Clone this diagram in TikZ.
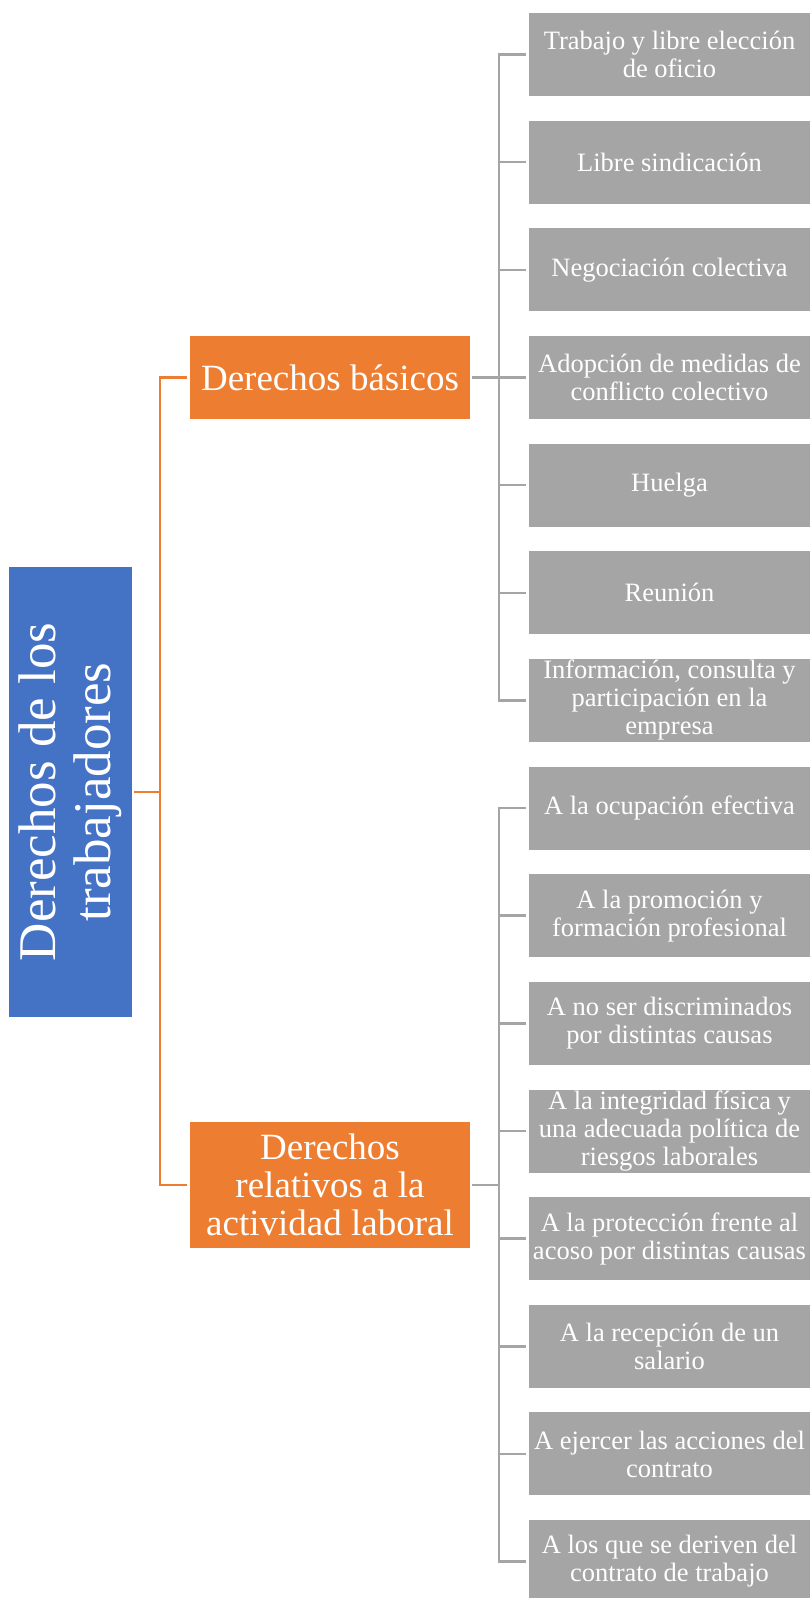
\documentclass[tikz,border=0pt]{standalone}
\usepackage{fontspec}
\setmainfont{Liberation Serif}
\usepackage{graphicx}
\definecolor{azul}{HTML}{4472C4}
\definecolor{naranja}{HTML}{ED7D31}
\definecolor{gris}{HTML}{A5A5A5}

\begin{document}
\begin{tikzpicture}[x=1pt, y=-1pt,
    raiz/.style={fill=azul, text=white, minimum width=123pt, minimum height=450pt, inner sep=0pt},
    rama/.style={fill=naranja, text=white, minimum width=280pt, inner xsep=1pt, inner ysep=0pt,
                 align=center, font=\fontsize{37}{38}\selectfont},
    hoja/.style={fill=gris, text=white, minimum width=281pt, minimum height=83pt, inner xsep=1pt,
                 inner ysep=0pt, align=center, font=\fontsize{26.5}{28}\selectfont},
    linea/.style={line width=2.5pt, shorten <=2pt, shorten >=3pt}]

    % Frame
    \useasboundingbox (0,0) rectangle (810,1598);

    % Root
    \node[raiz] (raiz) at (70.5,792)
        {\rotatebox{90}{\parbox{440pt}{\centering\fontsize{53}{55}\selectfont Derechos de los\\trabajadores}}};

    % Branches
    \node[rama, minimum height=83pt] (basicos) at (330,377.5) {Derechos básicos};
    \node[rama, minimum height=126pt] (laboral) at (330,1185) {Derechos\\relativos a la\\actividad laboral};

    % Leaves of the first branch
    \foreach \i/\texto in {1/{Trabajo y libre elección\\de oficio}, 2/{Libre sindicación},
                           3/{Negociación colectiva}, 4/{Adopción de medidas de\\conflicto colectivo},
                           5/{Huelga}, 6/{Reunión},
                           7/{Información, consulta y\\participación en la\\empresa}} {
        \node[hoja] (b\i) at (669.5, {54.5+(\i-1)*107.65}) {\texto};
    }

    % Leaves of the second branch
    \foreach \i/\texto in {1/{A la ocupación efectiva}, 2/{A la promoción y\\formación profesional},
                           3/{A no ser discriminados\\por distintas causas},
                           4/{A la integridad física y\\una adecuada política de\\riesgos laborales},
                           5/{A la protección frente al\\acoso por distintas causas},
                           6/{A la recepción de un\\salario}, 7/{A ejercer las acciones del\\contrato},
                           8/{A los que se deriven del\\contrato de trabajo}} {
        \node[hoja] (a\i) at (669.5, {54.5+(\i+6)*107.65}) {\texto};
    }

    % Connectors
    \foreach \r in {basicos, laboral}
        \draw[linea, naranja] (raiz.east) -- ++(28,0) |- (\r.west);
    \foreach \i in {1,...,7}
        \draw[linea, gris] (basicos.east) -- ++(29,0) |- (b\i.west);
    \foreach \i in {1,...,8}
        \draw[linea, gris] (laboral.east) -- ++(29,0) |- (a\i.west);
\end{tikzpicture}
\end{document}
